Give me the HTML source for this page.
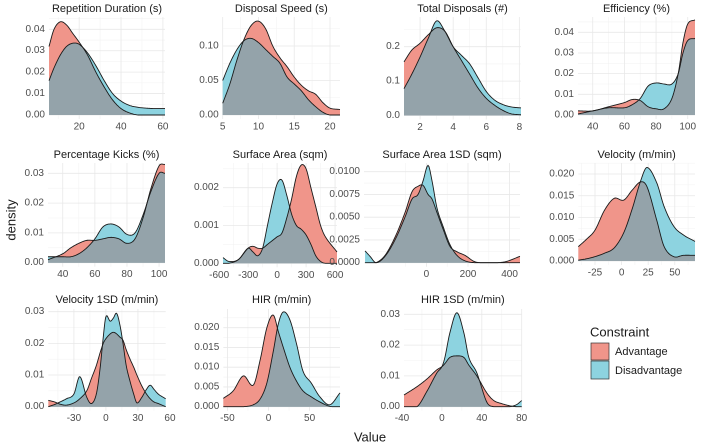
<!DOCTYPE html>
<html><head><meta charset="utf-8">
<style>
html,body{margin:0;padding:0;background:#fff;}
svg{display:block;font-family:"Liberation Sans",sans-serif;}
</style></head>
<body>
<svg id="chart" width="706" height="444" viewBox="0 0 706 444" xmlns="http://www.w3.org/2000/svg">
<text x="11" y="220" transform="rotate(-90 11 220)" text-anchor="middle" dominant-baseline="central" font-size="13" fill="#1a1a1a">density</text>
<text x="370" y="437" text-anchor="middle" dominant-baseline="central" font-size="13" fill="#1a1a1a">Value</text>
<g>
<text x="590" y="332" dominant-baseline="central" font-size="13" fill="#1a1a1a">Constraint</text>
<rect x="591" y="343" width="18" height="17" fill="#F0958A" stroke="#333" stroke-width="0.7"/>
<text x="615" y="352" dominant-baseline="central" font-size="11" fill="#1a1a1a">Advantage</text>
<rect x="591" y="361" width="18" height="18" fill="#8DD3E0" stroke="#333" stroke-width="0.7"/>
<text x="615" y="371" dominant-baseline="central" font-size="11" fill="#1a1a1a">Disadvantage</text>
</g>
</svg>
<script>
// ---- data (values only) ----
const titles = ["Repetition Duration (s)","Disposal Speed (s)","Total Disposals (#)","Efficiency (%)","Percentage Kicks (%)","Surface Area (sqm)","Surface Area 1SD (sqm)","Velocity (m/min)","Velocity 1SD (m/min)","HIR (m/min)","HIR 1SD (m/min)"];

const xs1 = [5.6,8,11,14,17,20,24,28,32,36,40,44,48,52,56,61];
const adv1 = [0.032,0.040,0.0435,0.042,0.038,0.034,0.028,0.020,0.013,0.007,0.003,0.001,0,0,0,0];
const dis1 = [0.016,0.022,0.028,0.032,0.0335,0.033,0.029,0.023,0.016,0.010,0.0065,0.0045,0.0036,0.0032,0.003,0.003];

const xs2 = [5,6,7,8,9,10,11,12,13,14,15,16,17,18,19,20,21.4];
const adv2 = [0.017,0.045,0.08,0.11,0.13,0.136,0.125,0.10,0.083,0.07,0.055,0.043,0.035,0.03,0.018,0.01,0.008];
const dis2 = [0.05,0.075,0.095,0.108,0.111,0.105,0.095,0.085,0.075,0.055,0.045,0.035,0.022,0.012,0.004,0,0];

const xs3 = [1.03,1.5,2,2.5,3,3.5,4,4.5,5,5.5,6,6.5,7,7.5,8.1];
const adv3 = [0.156,0.19,0.21,0.235,0.255,0.245,0.20,0.16,0.12,0.08,0.05,0.03,0.015,0.005,0.002];
const dis3 = [0.078,0.12,0.17,0.225,0.275,0.245,0.20,0.175,0.15,0.11,0.07,0.045,0.032,0.025,0.022];

const xs4 = [30.7,40,50,60,65,70,75,80,85,90,94,97,100,104.6];
const adv4 = [0.002,0.002,0.004,0.006,0.0075,0.007,0.004,0.003,0.003,0.008,0.02,0.035,0.044,0.046];
const dis4 = [0.0005,0.002,0.0035,0.0035,0.005,0.008,0.014,0.0155,0.015,0.015,0.02,0.03,0.036,0.037];

const xs5 = [30.8,40,45,50,55,60,65,70,75,80,85,90,95,100,103.7];
const adv5 = [0.001,0.003,0.005,0.0065,0.0075,0.0075,0.008,0.0085,0.008,0.0065,0.008,0.015,0.025,0.0325,0.033];
const dis5 = [0.002,0.002,0.002,0.003,0.005,0.008,0.012,0.013,0.012,0.0095,0.01,0.016,0.024,0.03,0.03];

const xs6 = [-560,-500,-400,-300,-250,-200,-150,-100,-50,0,50,100,150,200,250,300,350,400,450,500,620];
const adv6 = [0,0,0.0001,0.0004,0.00045,0.0004,0.0004,0.0005,0.0006,0.0007,0.0008,0.0012,0.0017,0.0023,0.0026,0.0025,0.002,0.0015,0.001,0.0007,0.0003];
const dis6 = [0.00015,0.00005,0.0001,0.0004,0.0003,0.0002,0.0004,0.001,0.0016,0.0021,0.0022,0.0018,0.0013,0.001,0.0009,0.00075,0.0005,0.0002,0.00005,0,0];

const xs7 = [-295,-271,-242,-199,-151,-103,-69,-40,-16,8,27,51,80,113,147,186,234,306,378,450];
const adv7 = [0,0,0,0.0008,0.0028,0.0055,0.0078,0.0084,0.0085,0.0075,0.007,0.0055,0.0037,0.0018,0.0012,0.0008,0.0001,0,0.0001,0.0007];
const dis7 = [0.0013,0.0007,0,0.0007,0.0025,0.005,0.007,0.0075,0.009,0.0107,0.009,0.006,0.004,0.002,0.0008,0.0002,0,0,0,0];

const xs8 = [-40.7,-33,-25,-16,-7,2,10,18,24,33,40,49,58,69];
const adv8 = [0.0033,0.005,0.0071,0.0117,0.0144,0.014,0.0163,0.0182,0.017,0.0094,0.0033,0.001,0.0013,0.0013];
const dis8 = [0.0002,0.0005,0.001,0.0018,0.003,0.0065,0.012,0.0185,0.0215,0.018,0.0125,0.008,0.006,0.0045];

const xs9 = [-54,-48,-43,-37,-30,-24.5,-18,-13.5,-9,-5.5,-2.5,0,4,7,10,13,16,19,22.6,26,29,33.7,38,41.5,45,49,56];
const adv9 = [0.002,0.0015,0.0008,0.0005,0.0012,0.0025,0.005,0.009,0.013,0.017,0.02,0.0215,0.023,0.0235,0.023,0.022,0.021,0.018,0.015,0.0125,0.01,0.0065,0.004,0.0025,0.0015,0.001,0];
const dis9 = [0,0.0007,0.0015,0.0025,0.004,0.0095,0.003,0.001,0.004,0.012,0.022,0.0285,0.027,0.028,0.0295,0.026,0.02,0.013,0.008,0.004,0.0012,0.003,0.0055,0.0068,0.0055,0.004,0.0025];

const xs10 = [-55,-43,-30.6,-18.4,-10,-2,5.8,12,18,26,34,42,52,62.5,74.6,87];
const adv10 = [0.0021,0.004,0.0078,0.0055,0.012,0.02,0.0232,0.019,0.015,0.01,0.0065,0.004,0.0025,0.0012,0.0001,0];
const dis10 = [0,0,0,0.0005,0.002,0.006,0.014,0.021,0.024,0.022,0.016,0.009,0.006,0.0025,0.0005,0.0035];

const xs11 = [-38,-25,-15,-5,0,3,8,15,22,27,35,45,52,60,68,75,80];
const adv11 = [0.0038,0.0065,0.009,0.012,0.013,0.014,0.016,0.0165,0.016,0.0135,0.01,0.0045,0.002,0.001,0.0003,0,0];
const dis11 = [0,0,0.005,0.011,0.013,0.016,0.024,0.0305,0.024,0.016,0.011,0.0015,0,0,0,0.0007,0.002];

const xTicks = [[20,40,60],[5,10,15,20],[2,4,6,8],[40,60,80,100],[40,60,80,100],[-600,-300,0,300,600],[0,200,400],[-25,0,25,50],[-30,0,30,60],[-50,0,50],[-40,0,40,80]];
const yTicks = [[0,0.01,0.02,0.03,0.04],[0,0.05,0.10],[0,0.1,0.2],[0,0.01,0.02,0.03,0.04],[0,0.01,0.02,0.03],[0,0.001,0.002],[0,0.0025,0.005,0.0075,0.01],[0,0.005,0.01,0.015,0.02],[0,0.01,0.02,0.03],[0,0.005,0.01,0.015,0.02],[0,0.01,0.02,0.03]];
const yDigits = [2,2,1,2,2,3,4,3,2,3,2];

// ---- layout (pixel geometry, not data) ----
const layout = [
 {px:[49,165],dom:[5.6,61],base:115,ref:[0.04,29.3],top:17,ty:9},
 {px:[222.7,340],dom:[5,21.4],base:115,ref:[0.10,46],top:17,ty:9},
 {px:[404,521],dom:[1.03,8.1],base:115.5,ref:[0.2,46.7],top:17,ty:9},
 {px:[578,695],dom:[30.7,104.6],base:115,ref:[0.04,32.3],top:17,ty:9},
 {px:[48,165],dom:[30.8,103.7],base:262.7,ref:[0.03,173.3],top:163,ty:155},
 {px:[223,337],dom:[-560,620],base:263.3,ref:[0.002,187.7],top:163,ty:155},
 {px:[364,520],dom:[-300,450],base:262.7,ref:[0.01,171.7],top:163,ty:155},
 {px:[578.3,695],dom:[-40.7,69],base:261,ref:[0.02,174],top:163,ty:155},
 {px:[48.3,165.7],dom:[-54,56],base:406.7,ref:[0.03,311.7],top:309,ty:300},
 {px:[223.3,340],dom:[-55,87],base:406.7,ref:[0.02,327.7],top:309,ty:300},
 {px:[404,521.7],dom:[-38,80],base:406.7,ref:[0.03,314.3],top:309,ty:300}
];
const series = [[xs1,adv1,dis1],[xs2,adv2,dis2],[xs3,adv3,dis3],[xs4,adv4,dis4],[xs5,adv5,dis5],[xs6,adv6,dis6],[xs7,adv7,dis7],[xs8,adv8,dis8],[xs9,adv9,dis9],[xs10,adv10,dis10],[xs11,adv11,dis11]];

const NS = "http://www.w3.org/2000/svg";
const svg = document.getElementById('chart');
function mk(tag, attrs, parent){const e=document.createElementNS(NS,tag);for(const k in attrs)e.setAttribute(k,attrs[k]);parent.appendChild(e);return e;}

function interp(xs, ys, x){
  const n=xs.length;
  if(x<=xs[0])return ys[0]; if(x>=xs[n-1])return ys[n-1];
  let i=0; while(i<n-2 && x>xs[i+1]) i++;
  const x0=xs[i],x1=xs[i+1],h=x1-x0,t=(x-x0)/h;
  const m=(k)=>{ if(k<=0)return (ys[1]-ys[0])/(xs[1]-xs[0]); if(k>=n-1)return (ys[n-1]-ys[n-2])/(xs[n-1]-xs[n-2]); return (ys[k+1]-ys[k-1])/(xs[k+1]-xs[k-1]); };
  const m0=m(i)*h,m1=m(i+1)*h,t2=t*t,t3=t2*t;
  const v=(2*t3-3*t2+1)*ys[i]+(t3-2*t2+t)*m0+(-2*t3+3*t2)*ys[i+1]+(t3-t2)*m1;
  return Math.max(0,v);
}
function fmt(v,d){ if(v<0) return "-"+Math.abs(v).toFixed(d); return v.toFixed(d); }

layout.forEach((L,p)=>{
  const g=mk('g',{},svg);
  
  
  const [xs,adv,dis]=series[p];
  const sx=v=>L.px[0]+(v-L.dom[0])/(L.dom[1]-L.dom[0])*(L.px[1]-L.px[0]);
  const k=(L.base-L.ref[1])/L.ref[0];
  const sy=v=>L.base-v*k;
  const bottom=L.base+4;
  // minor grid
  const yt=yTicks[p], xt=xTicks[p];
  const ystep=yt[1]-yt[0];
  for(let i=0;i<yt.length+1;i++){const v=yt[0]+ystep*(i+0.5);const y=sy(v); if(y>L.top&&y<bottom) mk('line',{x1:L.px[0],x2:L.px[1],y1:y,y2:y,stroke:'#f3f3f3','stroke-width':0.6},g);}
  const xstep=xt[1]-xt[0];
  for(let i=-1;i<xt.length+1;i++){const x=sx(xt[0]+xstep*(i+0.5)); if(x>L.px[0]&&x<L.px[1]) mk('line',{x1:x,x2:x,y1:L.top,y2:bottom,stroke:'#f3f3f3','stroke-width':0.6},g);}
  // major grid + labels
  yt.forEach((v,i)=>{const y=sy(v);
    const gl=mk('line',{x1:L.px[0],x2:L.px[1],y1:y,y2:y,stroke:'#e8e8e8','stroke-width':0.8},g);
    
    
    const t=mk('text',{x:L.px[0]-4,y:y,'text-anchor':'end','dominant-baseline':'central','font-size':10,fill:'#4d4d4d'},g);
    t.textContent=fmt(v,yDigits[p]);
    
    
  });
  xt.forEach(v=>{const x=sx(v);
    if(x>=L.px[0]&&x<=L.px[1]){const gl=mk('line',{x1:x,x2:x,y1:L.top,y2:bottom,stroke:'#e8e8e8','stroke-width':0.8},g);
      
      }
    const t=mk('text',{x:x,y:L.base+12,'text-anchor':'middle','dominant-baseline':'central','font-size':10,fill:'#4d4d4d'},g);
    t.textContent=String(v);
    
    
  });
  // densities
  const N=160, pa=[], pd=[];
  for(let i=0;i<=N;i++){const x=xs[0]+(xs[xs.length-1]-xs[0])*i/N; pa.push([x,interp(xs,adv,x)]); pd.push([x,interp(xs,dis,x)]);}
  const area=(pts)=>{let d='M'+sx(pts[0][0]).toFixed(2)+','+sy(0).toFixed(2);pts.forEach(q=>d+='L'+sx(q[0]).toFixed(2)+','+sy(q[1]).toFixed(2));d+='L'+sx(pts[pts.length-1][0]).toFixed(2)+','+sy(0).toFixed(2)+'Z';return d;};
  const line=(pts)=>{let d='';pts.forEach((q,i)=>d+=(i?'L':'M')+sx(q[0]).toFixed(2)+','+sy(q[1]).toFixed(2));return d;};
  const pmin=pa.map((q,i)=>[q[0],Math.min(q[1],pd[i][1])]);
  const a1=mk('path',{d:area(pa),fill:'#F0958A',stroke:'none'},g);
  
  
  const a2=mk('path',{d:area(pd),fill:'#8DD3E0',stroke:'none'},g);
  
  
  const a3=mk('path',{d:area(pmin),fill:'#94A3AA',stroke:'none'},g);
  
  
  const l1=mk('path',{d:line(pa),fill:'none',stroke:'#1a1a1a','stroke-width':0.9},g);
  
  
  const l2=mk('path',{d:line(pd),fill:'none',stroke:'#1a1a1a','stroke-width':0.9},g);
  
  
  const tt=mk('text',{x:(L.px[0]+L.px[1])/2,y:L.ty,'text-anchor':'middle','dominant-baseline':'central','font-size':11,fill:'#1a1a1a'},g);
  tt.textContent=titles[p];
  
  
});
</script>
</body></html>
